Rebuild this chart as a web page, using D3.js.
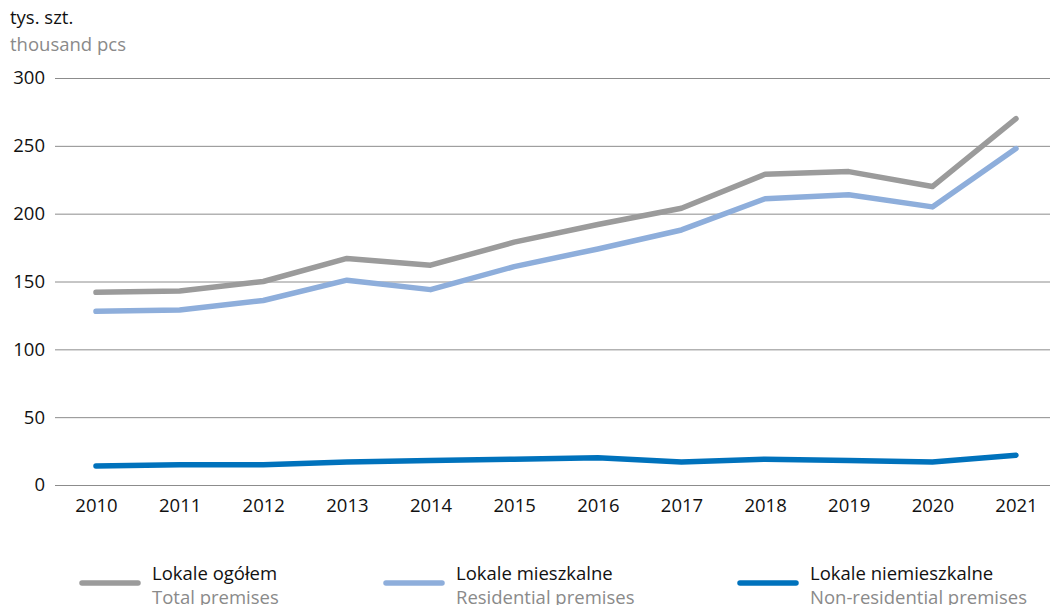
<!DOCTYPE html>
<html><head><meta charset="utf-8">
<script src="https://cdn.jsdelivr.net/npm/d3@7"></script>
<style>body{margin:0;background:#fff;} svg{display:block;font-family:"Open Sans","Noto Sans",sans-serif;}</style>
</head><body><svg id="c" width="1050" height="605"></svg>
<script>
const years = ["2010","2011","2012","2013","2014","2015","2016","2017","2018","2019","2020","2021"];
const total = [142,143,150,167,162,179,192,204,229,231,220,270];
const residential = [128,129,136,151,144,161,174,188,211,214,205,248];
const nonResidential = [14,15,15,17,18,19,20,17,19,18,17,22];
const yTicks = [0,50,100,150,200,250,300];
const seriesNames = [["Lokale ogółem","Total premises"],["Lokale mieszkalne","Residential premises"],["Lokale niemieszkalne","Non-residential premises"]];
const colors = ["#9b9b9b","#8eaedb","#0072bc"];
const fs = 18.5;

const svg = d3.select("#c");
const x = d3.scalePoint().domain(years).range([96,1016]);
const y = d3.scaleLinear().domain([0,300]).range([485,78]);

svg.append("text").attr("x",10).attr("y",24).attr("font-size",fs).attr("fill","#111").text("tys. szt.");
svg.append("text").attr("x",10).attr("y",51).attr("font-size",fs).attr("fill","#8a8a8a").text("thousand pcs");

const gy = svg.append("g").attr("transform","translate(55,0)")
  .call(d3.axisLeft(y).tickValues(yTicks).tickSize(-1000).tickPadding(10));
gy.select(".domain").remove();
gy.selectAll(".tick line").attr("stroke","#8c8c8c").attr("stroke-width",1);
gy.selectAll(".tick text").attr("font-size",fs).attr("fill","#111").attr("font-family","Open Sans, Noto Sans, sans-serif");

const gx = svg.append("g").attr("transform","translate(0,485)")
  .call(d3.axisBottom(x).tickSize(0).tickPadding(14));
gx.select(".domain").remove();
gx.selectAll(".tick text").attr("font-size",fs).attr("fill","#111").attr("font-family","Open Sans, Noto Sans, sans-serif");

const line = d3.line().x((d,i)=>x(years[i])).y(d=>y(d));
[total,residential,nonResidential].forEach((s,k)=>{
  svg.append("path").datum(s).attr("d",line).attr("fill","none")
    .attr("stroke",colors[k]).attr("stroke-width",5.5).attr("stroke-linecap","round").attr("stroke-linejoin","round");
});

const legX = [82,386,740];
seriesNames.forEach((n,k)=>{
  const g = svg.append("g").attr("transform",`translate(${legX[k]},0)`);
  g.append("line").attr("x1",0).attr("x2",56).attr("y1",583).attr("y2",583)
    .attr("stroke",colors[k]).attr("stroke-width",5.5).attr("stroke-linecap","round");
  g.append("text").attr("x",70).attr("y",580).attr("font-size",fs).attr("fill","#111").text(n[0]);
  g.append("text").attr("x",70).attr("y",604).attr("font-size",fs).attr("fill","#8a8a8a").text(n[1]);
});
</script></body></html>
